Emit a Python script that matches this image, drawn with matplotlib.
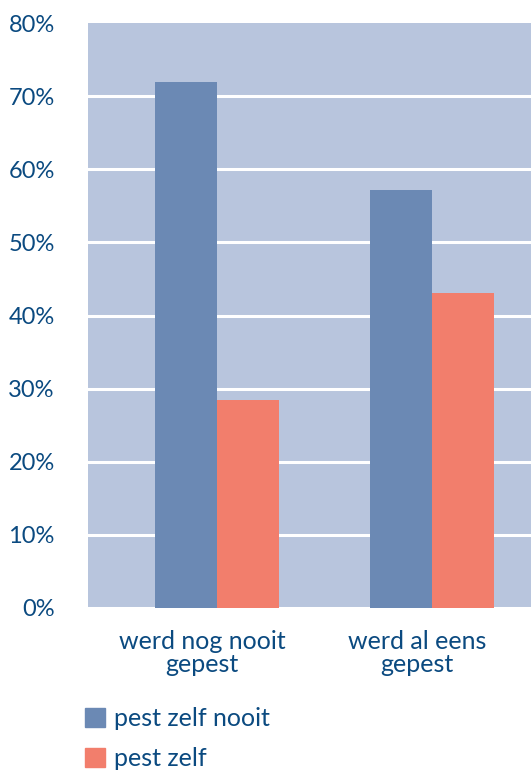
import matplotlib
matplotlib.use("Agg")
import matplotlib.pyplot as plt
import matplotlib.transforms as mtransforms
from matplotlib.patches import Patch
import numpy as np

# data
categories = ["werd nog nooit\ngepest", "werd al eens\ngepest"]
series_names = ["pest zelf nooit", "pest zelf"]
pest_zelf_nooit = [72.0, 57.1]
pest_zelf = [28.4, 43.1]
y_ticks = [0, 10, 20, 30, 40, 50, 60, 70, 80]

text_col = "#0b4a80"
bg_col = "#b8c5dd"
blue = "#6b89b4"
salmon = "#f27e6c"

plt.rcParams["font.family"] = ["Lato", "DejaVu Sans"]

fig = plt.figure(figsize=(5.31, 7.71), dpi=100)
ax = fig.add_axes([88 / 531, 163 / 771, 443 / 531, 585 / 771])
ax.set_facecolor(bg_col)

x = np.arange(len(categories))
w = 0.288
ax.bar(x - w / 2, pest_zelf_nooit, w, color=blue, zorder=3)
ax.bar(x + w / 2, pest_zelf, w, color=salmon, zorder=3)

ax.set_xlim(-0.6, 1.46)
ax.set_ylim(0, 80)
ax.set_yticks(y_ticks)
ax.set_yticklabels([f"{t}%" for t in y_ticks], fontsize=17, color=text_col)
for t in y_ticks[:-1]:
    ax.axhline(t, color="white", lw=2.2, zorder=1)

ax.set_xticks(x)
ax.set_xticklabels(categories, fontsize=18, color=text_col, linespacing=1.0)
ax.tick_params(axis="both", length=0)
ax.tick_params(axis="y", pad=24)
ax.tick_params(axis="x", pad=16)
# category labels sit a bit left of the group centre in the original
shift = mtransforms.ScaledTranslation(-0.15, 0, fig.dpi_scale_trans)
for lab in ax.get_xticklabels():
    lab.set_transform(lab.get_transform() + shift)
for s in ax.spines.values():
    s.set_visible(False)

handles = [Patch(color=blue), Patch(color=salmon)]
fig.legend(handles, series_names, loc="upper left",
           bbox_to_anchor=(75 / 531, 1 - 697 / 771),
           frameon=False, fontsize=18, labelcolor=text_col,
           handlelength=0.8, handleheight=0.8, handletextpad=0.35,
           labelspacing=0.7, borderaxespad=0)

fig.savefig("out.png", dpi=100)
